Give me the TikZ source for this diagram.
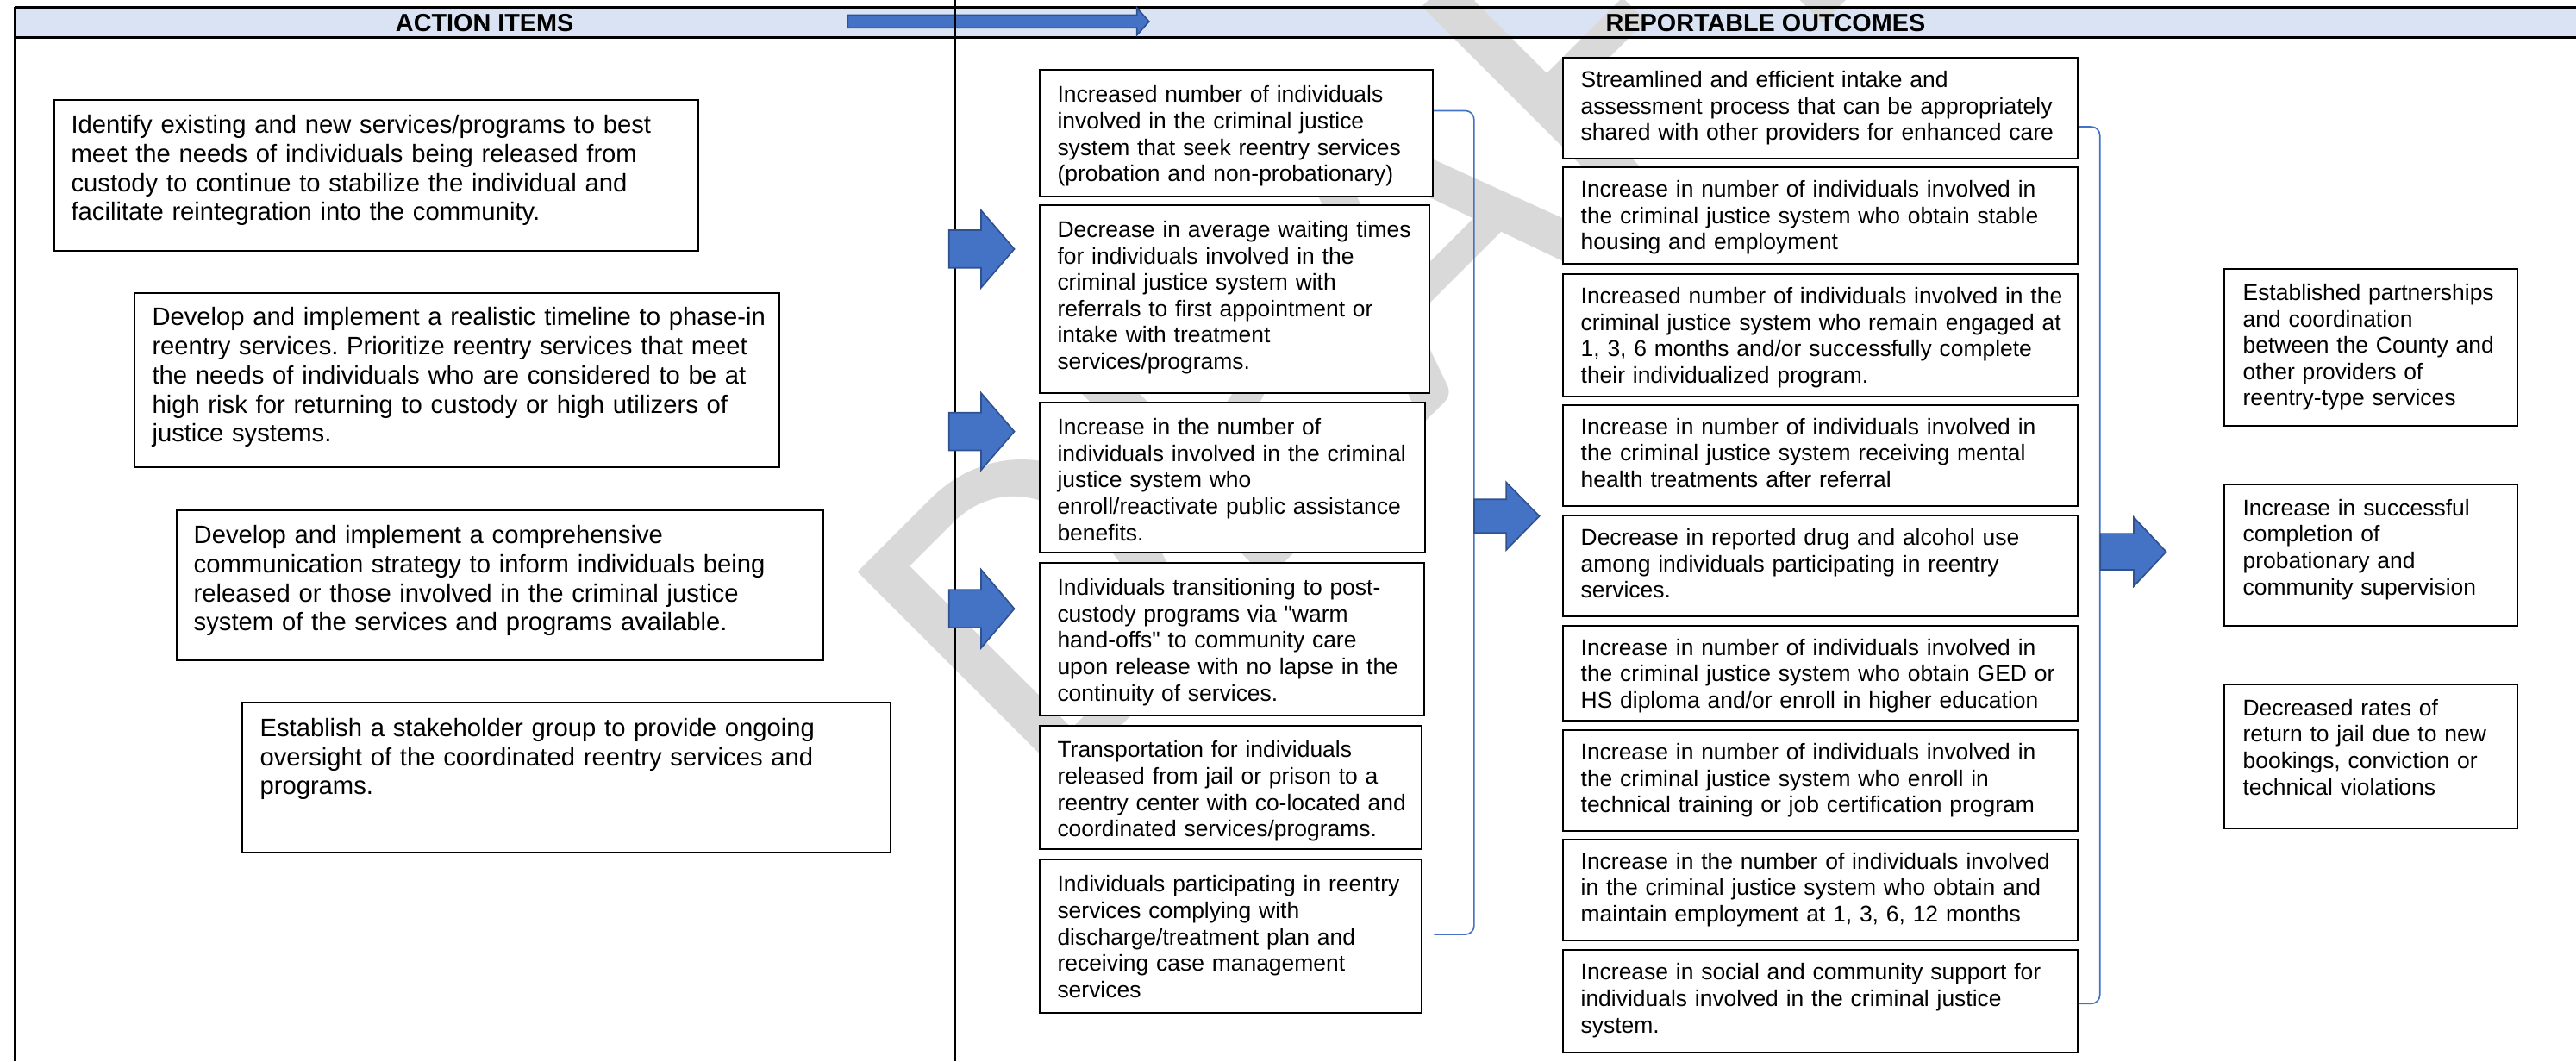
\documentclass[tikz,border=0pt]{standalone}
\usepackage{fontspec}
\setmainfont{Liberation Sans}
\newfontfamily\arial{Liberation Sans}
\newfontfamily\wmfont{Carlito}
\usetikzlibrary{calc}
\definecolor{hdrblue}{HTML}{DAE3F3}
\definecolor{arrblue}{HTML}{4472C4}
\definecolor{arredge}{HTML}{2F528F}
\definecolor{wmgrey}{HTML}{D9D9D9}
\frenchspacing
\newcommand{\lns}[1]{\begin{tabular}[t]{@{}l@{}}#1\end{tabular}}
\newcommand{\barrow}[6]{%
  \filldraw[blockarrow] (#1,#4-#5) -- (#2,#4-#5) -- (#2,#4-#6) -- (#3,#4) -- (#2,#4+#6) -- (#2,#4+#5) -- (#1,#4+#5) -- cycle;}
\begin{document}
\begin{tikzpicture}[x=0.02cm, y=-0.02cm,
  box/.style n args={4}{draw, line width=0.6pt, fill=white, anchor=north west,
    inner ysep=0pt, inner xsep={#4*0.02cm}, text width={(#1-2*#4)*0.02cm},
    text height={#3*0.02cm}, text depth={(#2-#3)*0.02cm}, align=left},
  lefttxt/.style={font=\arial\fontsize{8.73}{10.07}\selectfont},
  smalltxt/.style={font=\arial\fontsize{7.9}{9.15}\selectfont},
  blockarrow/.style={fill=arrblue, draw=arredge, line width=0.5pt, line join=miter},
  brace/.style={draw=arrblue, line width=0.5pt, rounded corners=3},
  hdrtxt/.style={font=\arial\bfseries\fontsize{8.6}{10}\selectfont, inner sep=0pt}]
\useasboundingbox (0,0) rectangle (1568,646);
% header band
\fill[hdrblue] (9,4.3) rectangle (1568,22.9);
% watermark
\node[anchor=base west, rotate=45, inner sep=0pt, text=wmgrey,
  font=\wmfont\fontsize{159.4}{159.4}\selectfont] (wm) at (635.3,488.9) {DRAFT};
\draw[line width=0.9pt] (9,4.3) -- (1568,4.3);
\draw[line width=0.9pt] (9,22.9) -- (1568,22.9);
\draw[line width=0.6pt] (9,4.3) -- (9,646);
% header arrow
\barrow{516}{692}{699.4}{13.1}{3.9}{8.3}
\draw[line width=0.6pt] (581.2,0) -- (581.2,646);
\node[hdrtxt] (h1) at (295,14) {ACTION ITEMS};
\node[hdrtxt] (h2) at (1074.7,14) {REPORTABLE OUTCOMES};

% action items
\node[box={392.3}{91.4}{20.1}{10.5}, lefttxt] (a1) at (32.3,60.6) {\lns{Identify existing and new services/programs to best\\meet the needs of individuals being released from\\custody to continue to stabilize the individual and\\facilitate reintegration into the community.}};
\node[box={392.3}{106}{19.7}{10.7}, lefttxt] (a2) at (81.4,178.1) {\lns{Develop and implement a realistic timeline to phase-in\\reentry services. Prioritize reentry services that meet\\the needs of individuals who are considered to be at\\high risk for returning to custody or high utilizers of\\justice systems.}};
\node[box={394}{91.5}{20.4}{10.6}, lefttxt] (a3) at (106.8,310) {\lns{Develop and implement a comprehensive\\communication strategy to inform individuals being\\released or those involved in the criminal justice\\system of the services and programs available.}};
\node[box={395}{91.2}{20.4}{11}, lefttxt] (a4) at (146.7,427.4) {\lns{Establish a stakeholder group to provide ongoing\\oversight of the coordinated reentry services and\\programs.}};

% middle column
\node[box={239.3}{77.1}{19.6}{10.7}, smalltxt] (m1) at (632.4,42.2) {\lns{Increased number of individuals\\involved in the criminal justice\\system that seek reentry services\\(probation and non-probationary)}};
\node[box={236.9}{114.2}{19.6}{10.7}, smalltxt] (m2) at (632.4,124.4) {\lns{Decrease in average waiting times\\for individuals involved in the\\criminal justice system with\\referrals to first appointment or\\intake with treatment\\services/programs.}};
\node[box={234.3}{91.3}{19.6}{10.7}, smalltxt] (m3) at (632.4,244.6) {\lns{Increase in the number of\\individuals involved in the criminal\\justice system who\\enroll/reactivate public assistance\\benefits.}};
\node[box={234}{93}{19.6}{10.7}, smalltxt] (m4) at (632.4,342.2) {\lns{Individuals transitioning to post-\\custody programs via "warm\\hand-offs" to community care\\upon release with no lapse in the\\continuity of services.}};
\node[box={232.4}{75.4}{19.6}{10.7}, smalltxt] (m5) at (632.4,441.1) {\lns{Transportation for individuals\\released from jail or prison to a\\reentry center with co-located and\\coordinated services/programs.}};
\node[box={232.4}{93.3}{19.6}{10.7}, smalltxt] (m6) at (632.4,522.9) {\lns{Individuals participating in reentry\\services complying with\\discharge/treatment plan and\\receiving case management\\services}};

% outcomes column
\node[box={313.6}{61.4}{18}{10.9}, smalltxt] (o1) at (950.8,34.7) {\lns{Streamlined and efficient intake and\\assessment process that can be appropriately\\shared with other providers for enhanced care}};
\node[box={313.6}{58.7}{18}{10.9}, smalltxt] (o2) at (950.8,101.4) {\lns{Increase in number of individuals involved in\\the criminal justice system who obtain stable\\housing and employment}};
\node[box={313.6}{74.3}{18}{10.9}, smalltxt] (o3) at (950.8,166.5) {\lns{Increased number of individuals involved in the\\criminal justice system who remain engaged at\\1, 3, 6 months and/or successfully complete\\their individualized program.}};
\node[box={313.6}{61.3}{18}{10.9}, smalltxt] (o4) at (950.8,246) {\lns{Increase in number of individuals involved in\\the criminal justice system receiving mental\\health treatments after referral}};
\node[box={313.6}{61.1}{18}{10.9}, smalltxt] (o5) at (950.8,313.5) {\lns{Decrease in reported drug and alcohol use\\among individuals participating in reentry\\services.}};
\node[box={313.6}{58.1}{18}{10.9}, smalltxt] (o6) at (950.8,380.3) {\lns{Increase in number of individuals involved in\\the criminal justice system who obtain GED or\\HS diploma and/or enroll in higher education}};
\node[box={313.6}{61.3}{18}{10.9}, smalltxt] (o7) at (950.8,444.1) {\lns{Increase in number of individuals involved in\\the criminal justice system who enroll in\\technical training or job certification program}};
\node[box={313.6}{61.2}{18}{10.9}, smalltxt] (o8) at (950.8,510.6) {\lns{Increase in the number of individuals involved\\in the criminal justice system who obtain and\\maintain employment at 1, 3, 6, 12 months}};
\node[box={313.6}{62.1}{18}{10.9}, smalltxt] (o9) at (950.8,578) {\lns{Increase in social and community support for\\individuals involved in the criminal justice\\system.}};

% final outcomes
\node[box={178.3}{95.6}{19.2}{11.2}, smalltxt] (r1) at (1353.5,163.1) {\lns{Established partnerships\\and coordination\\between the County and\\other providers of\\reentry-type services}};
\node[box={178.3}{86}{19}{11.2}, smalltxt] (r2) at (1353.5,294.4) {\lns{Increase in successful\\completion of\\probationary and\\community supervision}};
\node[box={178.3}{87.7}{19}{11.2}, smalltxt] (r3) at (1353.5,416.1) {\lns{Decreased rates of\\return to jail due to new\\bookings, conviction or\\technical violations}};

% brackets
\draw[brace] ($(m1.east)+(0,-13.85)$) -| ($(m6.east)+(31.4,-1.2)$) -- ($(m6.east)+(7,-1.2)$);
\draw[brace] ($(o1.east)+(0,11.2)$) -| ($(o9.east)+(12.7,1.45)$) -- ($(o9.east)+(0,1.45)$);

% block arrows
\barrow{577.6}{597.2}{617.4}{151.6}{11.5}{23.5}
\barrow{577.6}{597.2}{617.4}{262.7}{11.5}{23.4}
\barrow{577.6}{597.2}{617.4}{370.6}{11.5}{23.8}
\barrow{897.3}{916.8}{937}{314.2}{10.2}{20.6}
\barrow{1278.5}{1298.8}{1318.5}{335.9}{11}{21}
\end{tikzpicture}
\end{document}
